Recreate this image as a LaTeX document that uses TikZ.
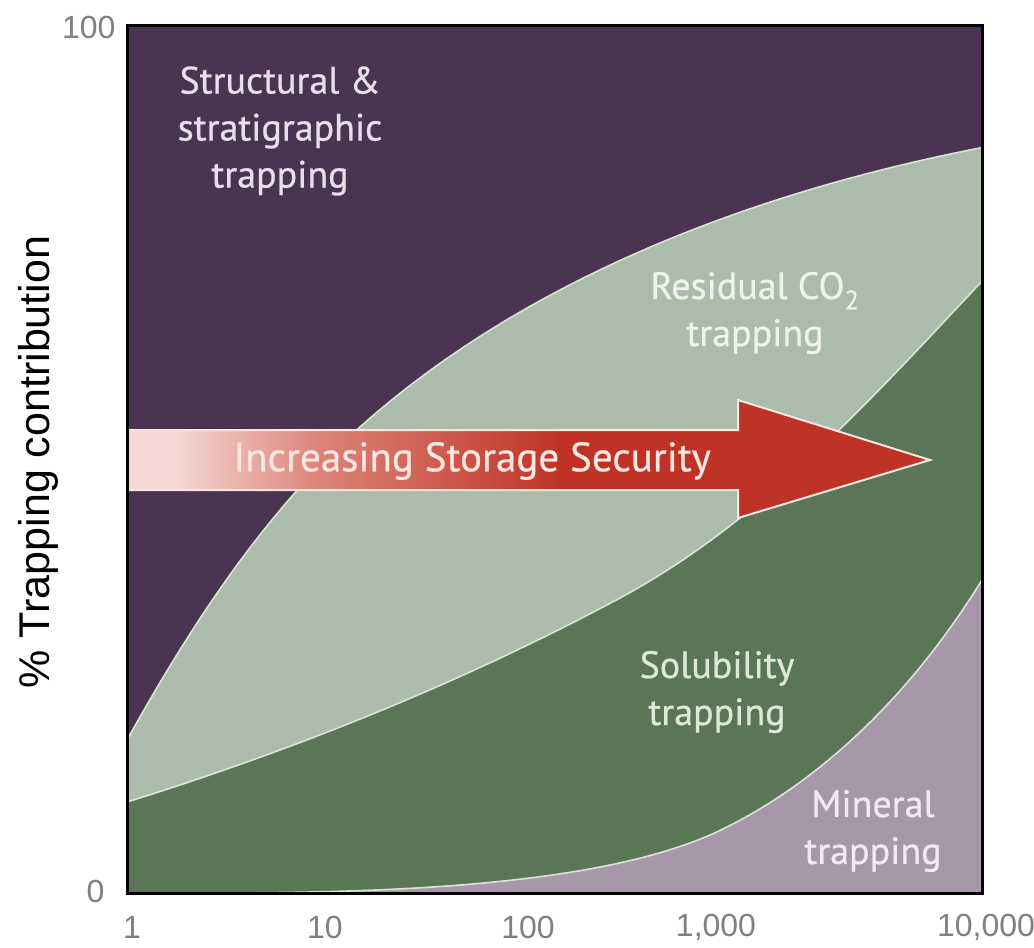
\documentclass[tikz,border=0pt]{standalone}
\usepackage{fontspec}
\setmainfont{Liberation Sans}
\newfontfamily\lab[FakeBold=0.6]{PT Sans}
\definecolor{purp}{HTML}{4B3452}
\definecolor{lgreen}{HTML}{ABBCAA}
\definecolor{dgreen}{HTML}{5B7557}
\definecolor{mineral}{HTML}{A897AB}
\definecolor{edge}{HTML}{D9E6D6}
\definecolor{aL}{HTML}{F4D7D3}
\definecolor{aM}{HTML}{DC8378}
\definecolor{aR}{HTML}{BF3327}
\definecolor{tick}{HTML}{808080}
\definecolor{tPurp}{HTML}{E8DEEC}
\definecolor{tLg}{HTML}{EEF3EC}
\definecolor{tDg}{HTML}{DCE9D6}
\definecolor{tMin}{HTML}{F1EAF3}
\definecolor{tArr}{HTML}{FBE6E2}
\pgfdeclarehorizontalshading{arrowshade}{100bp}{color(0bp)=(aL); color(28bp)=(aL); color(37bp)=(aM); color(52bp)=(aR); color(100bp)=(aR)}
\newcommand\topcurve{(127,740) .. controls (190,627) and (263,514) .. (360,427) .. controls (530,275) and (762,190) .. (985,147)}
\newcommand\midcurve{(127,802) .. controls (297,749) and (463,682) .. (620,598) .. controls (763,521) and (874,396) .. (985,278)}
\newcommand\lowcurve{(200,893) .. controls (375,893) and (603,888) .. (723,829) .. controls (833,775) and (922,679) .. (985,575)}
\tikzset{
  region/.style={font=\lab\fontsize{38}{47}\selectfont, align=center},
  ticklab/.style={font=\fontsize{32}{34}\selectfont, text=tick},
  bound/.style={draw=edge, line width=1.6pt},
}
\begin{document}
\begin{tikzpicture}[x=1pt,y=-1pt]
\useasboundingbox (0,0) rectangle (1034,948);
\begin{scope}
\clip (127,25) rectangle (982,893);
\fill[purp] (127,25) rectangle (982,893);
\fill[lgreen] \topcurve -- (985,895) -- (127,895) -- cycle;
\fill[dgreen] \midcurve -- (985,895) -- (127,895) -- cycle;
\fill[mineral] (127,895) -- \lowcurve -- (985,895) -- cycle;
\draw[bound] \topcurve;
\draw[bound] \midcurve;
\draw[bound] \lowcurve;
% arrow
\shade[shading=arrowshade] (127,430) -- (738,430) -- (738,400) -- (930,460) -- (738,518) -- (738,490) -- (127,490) -- cycle;
\draw[draw=tArr, line width=2pt, line join=miter] (120,430) -- (738,430) -- (738,400) -- (930,460) -- (738,518) -- (738,490) -- (120,490);
\end{scope}
\draw[black, line width=3pt] (127,25) rectangle (982,893);
% labels
\node[region, text=tPurp] (struct) at (280,131) {Structural \&\\stratigraphic\\trapping};
\node[region, text=tLg] (resid) at (755,313) {Residual CO\textsubscript{2}\\trapping};
\node[region, text=tDg] (solub) at (717,692) {Solubility\\trapping};
\node[region, text=tMin] (miner) at (873,831) {Mineral\\trapping};
\node[font=\lab\fontsize{41}{46}\selectfont, text=tArr] (arrtxt) at (472,461) {Increasing Storage Security};
% axes
\node[ticklab, anchor=east] (y100) at (119,27) {100};
\node[ticklab, anchor=east] (y0) at (108,891) {0};
\node[ticklab] (x1) at (132,927) {1};
\node[ticklab] (x10) at (325,927) {10};
\node[ticklab] (x100) at (528,927) {100};
\node[ticklab] (x1000) at (716,927) {1,000};
\node[ticklab] (x10000) at (986,927) {10,000};
\node[rotate=90, font=\fontsize{43}{45}\selectfont] (ylab) at (38,462) {\% Trapping contribution};
\end{tikzpicture}
\end{document}
